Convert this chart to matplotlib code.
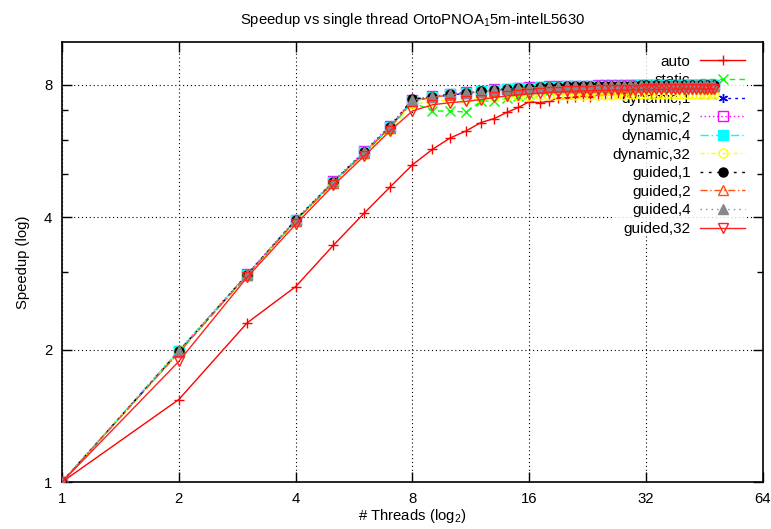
import matplotlib
matplotlib.use('Agg')
import matplotlib.pyplot as plt
from matplotlib.ticker import FixedLocator, FixedFormatter, NullFormatter

plt.rcParams['font.family'] = ['Liberation Sans', 'DejaVu Sans']
plt.rcParams['mathtext.fontset'] = 'custom'
plt.rcParams['mathtext.rm'] = 'Liberation Sans'
plt.rcParams['mathtext.it'] = 'Liberation Sans'

# threads 1..48
threads = list(range(1, 49))

auto = [1.00, 1.54, 2.30, 2.78, 3.45, 4.08, 4.68, 5.26, 5.70, 6.05,
        6.28, 6.56, 6.70, 6.92, 7.10, 7.32, 7.28, 7.33, 7.47, 7.47,
        7.50, 7.55, 7.50, 7.58, 7.62, 7.60, 7.65, 7.66, 7.70, 7.68,
        7.72, 7.74, 7.76, 7.75, 7.78, 7.77, 7.80, 7.79, 7.80, 7.81,
        7.80, 7.82, 7.81, 7.83, 7.82, 7.83, 7.84, 7.84]
static = [1.00, 1.97, 2.95, 3.92, 4.78, 5.58, 6.38, 7.30, 6.97, 6.97,
          6.93, 7.33, 7.36, 7.46, 7.55, 7.62, 7.70, 7.74, 7.78, 7.80,
          7.82, 7.83, 7.85, 7.86, 7.87, 7.87, 7.88, 7.88, 7.89, 7.89,
          7.90, 7.90, 7.90, 7.91, 7.90, 7.91, 7.91, 7.91, 7.92, 7.91,
          7.92, 7.92, 7.91, 7.92, 7.92, 7.92, 7.93, 7.92]
dynamic_1 = [1.00, 1.98, 2.96, 3.93, 4.80, 5.60, 6.40, 7.36, 7.48, 7.58,
             7.64, 7.70, 7.76, 7.80, 7.84, 7.87, 7.89, 7.90, 7.91, 7.92,
             7.92, 7.93, 7.93, 7.94, 7.94, 7.94, 7.95, 7.95, 7.95, 7.95,
             7.96, 7.96, 7.95, 7.96, 7.95, 7.96, 7.95, 7.96, 7.95, 7.96,
             7.95, 7.96, 7.95, 7.96, 7.95, 7.96, 7.95, 7.96]
dynamic_2 = [1.00, 1.99, 2.97, 3.95, 4.83, 5.64, 6.46, 7.40, 7.52, 7.62,
             7.68, 7.74, 7.80, 7.84, 7.88, 7.90, 7.92, 7.93, 7.94, 7.95,
             7.95, 7.96, 7.96, 7.97, 7.97, 7.97, 7.98, 7.98, 7.98, 7.98,
             7.99, 7.99, 7.98, 7.99, 7.98, 7.99, 7.98, 7.99, 7.98, 7.99,
             7.98, 7.99, 7.98, 7.99, 7.98, 7.99, 7.98, 7.99]
dynamic_4 = [1.00, 1.99, 2.96, 3.94, 4.81, 5.62, 6.42, 7.34, 7.50, 7.60,
             7.66, 7.72, 7.78, 7.82, 7.86, 7.88, 7.90, 7.91, 7.92, 7.93,
             7.93, 7.94, 7.94, 7.95, 7.95, 7.95, 7.96, 7.96, 7.96, 7.96,
             7.97, 7.97, 7.96, 7.97, 7.96, 7.97, 7.96, 7.97, 7.96, 7.97,
             7.96, 7.97, 7.96, 7.97, 7.96, 7.97, 7.96, 7.97]
dynamic_32 = [1.00, 1.98, 2.95, 3.91, 4.76, 5.55, 6.32, 7.22, 7.32, 7.38,
              7.42, 7.46, 7.50, 7.52, 7.54, 7.55, 7.56, 7.57, 7.57, 7.58,
              7.58, 7.58, 7.59, 7.58, 7.59, 7.59, 7.60, 7.59, 7.60, 7.60,
              7.61, 7.60, 7.61, 7.60, 7.61, 7.61, 7.62, 7.61, 7.62, 7.62,
              7.63, 7.62, 7.63, 7.62, 7.63, 7.63, 7.64, 7.63]
guided_1 = [1.00, 1.98, 2.96, 3.94, 4.81, 5.61, 6.41, 7.42, 7.50, 7.60,
            7.66, 7.72, 7.77, 7.82, 7.85, 7.88, 7.90, 7.91, 7.92, 7.93,
            7.93, 7.94, 7.94, 7.95, 7.95, 7.95, 7.96, 7.96, 7.96, 7.96,
            7.97, 7.97, 7.96, 7.97, 7.96, 7.97, 7.96, 7.97, 7.96, 7.97,
            7.96, 7.97, 7.96, 7.97, 7.96, 7.97, 7.96, 7.97]
guided_2 = [1.00, 1.97, 2.95, 3.92, 4.79, 5.59, 6.39, 7.35, 7.48, 7.58,
            7.64, 7.70, 7.75, 7.80, 7.84, 7.86, 7.88, 7.89, 7.90, 7.91,
            7.91, 7.92, 7.92, 7.93, 7.93, 7.93, 7.94, 7.94, 7.94, 7.94,
            7.95, 7.95, 7.94, 7.95, 7.94, 7.95, 7.94, 7.95, 7.94, 7.95,
            7.94, 7.95, 7.94, 7.95, 7.94, 7.95, 7.94, 7.95]
guided_4 = [1.00, 1.98, 2.96, 3.94, 4.80, 5.61, 6.41, 7.38, 7.50, 7.60,
            7.65, 7.71, 7.77, 7.81, 7.85, 7.87, 7.89, 7.91, 7.92, 7.93,
            7.94, 7.94, 7.95, 7.95, 7.96, 7.96, 7.97, 7.96, 7.97, 7.96,
            7.98, 7.96, 7.98, 7.96, 7.98, 7.96, 7.98, 7.96, 7.98, 7.96,
            7.98, 7.96, 7.98, 7.96, 7.98, 7.96, 7.98, 7.96]
guided_32 = [1.00, 1.88, 2.92, 3.85, 4.72, 5.50, 6.28, 6.97, 7.20, 7.28,
             7.33, 7.40, 7.48, 7.54, 7.58, 7.62, 7.65, 7.68, 7.70, 7.72,
             7.73, 7.74, 7.75, 7.76, 7.76, 7.77, 7.77, 7.78, 7.78, 7.79,
             7.79, 7.80, 7.79, 7.80, 7.80, 7.81, 7.80, 7.81, 7.81, 7.82,
             7.81, 7.82, 7.82, 7.82, 7.82, 7.83, 7.82, 7.83]

series_names = ['auto', 'static', 'dynamic,1', 'dynamic,2', 'dynamic,4',
                'dynamic,32', 'guided,1', 'guided,2', 'guided,4', 'guided,32']
series_values = [auto, static, dynamic_1, dynamic_2, dynamic_4,
                 dynamic_32, guided_1, guided_2, guided_4, guided_32]

x_ticks = [1, 2, 4, 8, 16, 32, 64]
y_ticks = [1, 2, 4, 8]
y_minor = [3, 5, 6, 7]

# gnuplot-like styles: colour, linestyle, marker, filled
styles = [
    ('#ff0000', '-', '+', True),
    ('#00ff00', (0, (4, 3)), 'x', True),
    ('#0000ff', (0, (2, 3)), (6, 2, 0), True),
    ('#ff00ff', (0, (1, 2)), 's', False),
    ('#00ffff', (0, (6, 2, 1, 2)), 's', True),
    ('#ffff00', (0, (3, 2, 1, 2)), 'o', False),
    ('#000000', (0, (2, 4)), 'o', True),
    ('#ff5010', (0, (5, 2, 1, 2)), '^', False),
    ('#888888', (0, (1, 3)), '^', True),
    ('#ff2020', '-', 'v', False),
]

fig = plt.figure(figsize=(7.71, 5.29), dpi=100)
ax = fig.add_axes([0.0804, 0.0888, 0.9092, 0.8318])

for name, vals, (c, ls, mk, filled) in zip(series_names, series_values, styles):
    ax.plot(threads, vals, color=c, linestyle=ls, linewidth=1.0,
            marker=mk, markersize=6.5, markeredgewidth=1.0,
            markerfacecolor=c if filled else 'none', markeredgecolor=c,
            label=name, zorder=3)

ax.set_xscale('log', base=2)
ax.set_yscale('log', base=2)
ax.set_xlim(1, 64)
ax.set_ylim(1, 10)

ax.xaxis.set_major_locator(FixedLocator(x_ticks))
ax.xaxis.set_major_formatter(FixedFormatter([str(v) for v in x_ticks]))
ax.xaxis.set_minor_locator(FixedLocator([]))
ax.yaxis.set_major_locator(FixedLocator(y_ticks))
ax.yaxis.set_major_formatter(FixedFormatter([str(v) for v in y_ticks]))
ax.yaxis.set_minor_locator(FixedLocator(y_minor))
ax.yaxis.set_minor_formatter(NullFormatter())

ax.tick_params(which='major', direction='in', length=7, width=1,
               top=True, right=True, labelsize=10.7, pad=7)
ax.tick_params(which='minor', direction='in', length=4, width=1,
               right=True, left=True)
for s in ax.spines.values():
    s.set_linewidth(1.2)

ax.set_axisbelow(True)
ax.grid(True, which='major', color='black', linestyle=(0, (1, 2.5)),
        linewidth=0.8)

ax.set_title(r'Speedup vs single thread OrtoPNOA$_1$5m-intelL5630',
             fontsize=10.7, pad=13)
ax.set_xlabel(r'# Threads (log$_2$)', fontsize=10.7, labelpad=1)
ax.set_ylabel('Speedup (log)', fontsize=10.7, labelpad=10)

# labels right-aligned with key samples on the right, like gnuplot
leg = ax.legend(loc='upper right', bbox_to_anchor=(0.974, 0.971),
                markerfirst=False, frameon=True, fontsize=11,
                handlelength=2.9, handletextpad=0.65, labelspacing=0.3,
                borderpad=0.0, borderaxespad=0.0)
leg.get_frame().set_facecolor('white')
leg.get_frame().set_edgecolor('none')
leg.set_zorder(2)

fig.savefig('out.png', dpi=100)
